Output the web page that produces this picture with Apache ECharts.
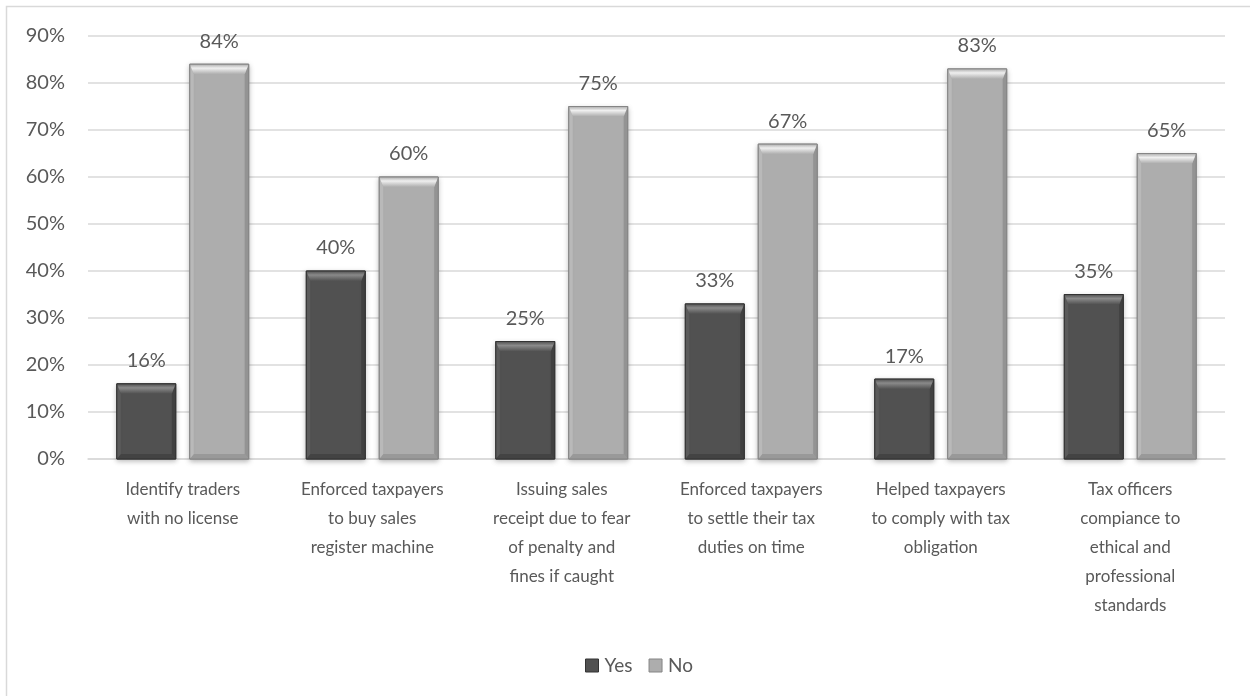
<!DOCTYPE html>
<html>
<head>
<meta charset="utf-8">
<script src="https://cdn.jsdelivr.net/npm/echarts@6/dist/echarts.min.js"></script>
<style>
  html, body { margin: 0; padding: 0; background: #fff; }
  #chart { width: 1250px; height: 696px; }
</style>
</head>
<body>
<div id="chart"></div>
<script>
// Survey categories (line breaks are part of the drawn axis labels)
const categories = [
  'Identify traders\nwith no license',
  'Enforced taxpayers\nto buy sales\nregister machine',
  'Issuing sales\nreceipt due to fear\nof penalty and\nfines if caught',
  'Enforced taxpayers\nto settle their tax\nduties on time',
  'Helped taxpayers\nto comply with tax\nobligation',
  'Tax officers\ncompiance to\nethical and\nprofessional\nstandards'
];
const yesValues = [16, 40, 25, 33, 17, 35];
const noValues = [84, 60, 75, 67, 83, 65];
const seriesNames = ['Yes', 'No'];
const yTicks = [0, 10, 20, 30, 40, 50, 60, 70, 80, 90];

const FONT = 'Lato, "Noto Sans", sans-serif';
const TEXT = '#595959';

// Bevelled bar shades per series: face, top bevel, left edge, right edge, bottom, border
const shades = [
  { face: '#515151', top: '#8a8a8a', left: '#5a5a5a', right: '#404040', bottom: '#434343', border: '#333333' },
  { face: '#adadad', top: '#efefef', left: '#b9b9b9', right: '#939393', bottom: '#999999', border: '#858585' }
];

function makeRenderer(si) {
  return function (params, api) {
    const cat = api.value(0);
    const v = api.value(1);
    const base = api.coord([cat, 0]);
    const top = api.coord([cat, v]);
    const band = api.size([1, 0])[0];
    const w = band * 0.311;
    const gap = band * 0.074;
    const cx = base[0] + (si === 0 ? -1 : 1) * (w + gap) / 2;
    const x = cx - w / 2;
    const y = top[1];
    const h = base[1] - top[1];
    const c = shades[si];
    const tb = Math.min(10, h / 3), sb = 4, bb = Math.min(5, h / 4);
    return {
      type: 'group',
      children: [
        {
          type: 'rect',
          shape: { x: x, y: y, width: w, height: h },
          style: {
            fill: c.face, stroke: c.border, lineWidth: 1,
            shadowBlur: 5, shadowColor: 'rgba(0,0,0,0.28)', shadowOffsetY: 2
          }
        },
        {
          type: 'polygon',
          shape: { points: [[x + sb, y + h - bb], [x + w - sb, y + h - bb], [x + w, y + h], [x, y + h]] },
          style: { fill: c.bottom }
        },
        {
          type: 'polygon',
          shape: { points: [[x, y], [x + sb, y + tb], [x + sb, y + h - bb], [x, y + h]] },
          style: { fill: c.left }
        },
        {
          type: 'polygon',
          shape: { points: [[x + w, y], [x + w, y + h], [x + w - sb, y + h - bb], [x + w - sb, y + tb]] },
          style: { fill: c.right }
        },
        {
          type: 'polygon',
          shape: { points: [[x, y], [x + w, y], [x + w - sb, y + tb], [x + sb, y + tb]] },
          style: {
            fill: new echarts.graphic.LinearGradient(0, 0, 0, 1, [
              { offset: 0, color: c.face }, { offset: 0.4, color: c.top }, { offset: 1, color: c.face }
            ])
          }
        },
        {
          type: 'rect',
          shape: { x: x, y: y, width: w, height: h },
          style: { fill: 'none', stroke: c.border, lineWidth: 1 }
        },
        {
          type: 'text',
          style: {
            x: cx, y: y - 13, text: v + '%',
            align: 'center', verticalAlign: 'bottom',
            fill: TEXT, fontSize: 20, fontFamily: FONT
          }
        }
      ]
    };
  };
}

const chart = echarts.init(document.getElementById('chart'), null, { renderer: 'canvas' });
chart.setOption({
  backgroundColor: '#fff',
  animation: false,
  graphic: [{
    type: 'rect',
    shape: { x: 6.5, y: 6.5, width: 1260, height: 700 },
    style: { fill: 'none', stroke: '#d9d9d9', lineWidth: 1.5 },
    silent: true
  }],
  grid: { left: 88, right: 25, top: 36, bottom: 237, containLabel: false },
  legend: {
    top: 651, left: 580,
    icon: 'rect', itemWidth: 13, itemHeight: 13, itemGap: 16,
    textStyle: { color: TEXT, fontSize: 19, fontFamily: FONT, padding: [0, 0, 0, 1] },
    data: [
      { name: seriesNames[0], itemStyle: { color: shades[0].face, borderColor: shades[0].border, borderWidth: 1 } },
      { name: seriesNames[1], itemStyle: { color: shades[1].face, borderColor: shades[1].border, borderWidth: 1 } }
    ]
  },
  xAxis: {
    type: 'category',
    data: categories,
    axisTick: { show: false },
    axisLine: { show: true, lineStyle: { color: '#d9d9d9', width: 1.5 } },
    axisLabel: {
      color: TEXT, fontSize: 17, fontFamily: FONT, lineHeight: 29,
      interval: 0, margin: 16, align: 'center', verticalAlign: 'top'
    }
  },
  yAxis: {
    type: 'value',
    min: yTicks[0], max: yTicks[yTicks.length - 1], interval: 10,
    axisLine: { show: false },
    axisTick: { show: false },
    splitLine: { lineStyle: { color: '#d9d9d9', width: 1.5 } },
    axisLabel: { color: TEXT, fontSize: 20, fontFamily: FONT, margin: 23, formatter: '{value}%' }
  },
  series: [
    {
      name: seriesNames[0], type: 'custom',
      renderItem: makeRenderer(0),
      itemStyle: { color: shades[0].face },
      encode: { x: 0, y: 1 },
      data: yesValues.map((v, i) => [i, v])
    },
    {
      name: seriesNames[1], type: 'custom',
      renderItem: makeRenderer(1),
      itemStyle: { color: shades[1].face },
      encode: { x: 0, y: 1 },
      data: noValues.map((v, i) => [i, v])
    }
  ]
});
</script>
</body>
</html>
